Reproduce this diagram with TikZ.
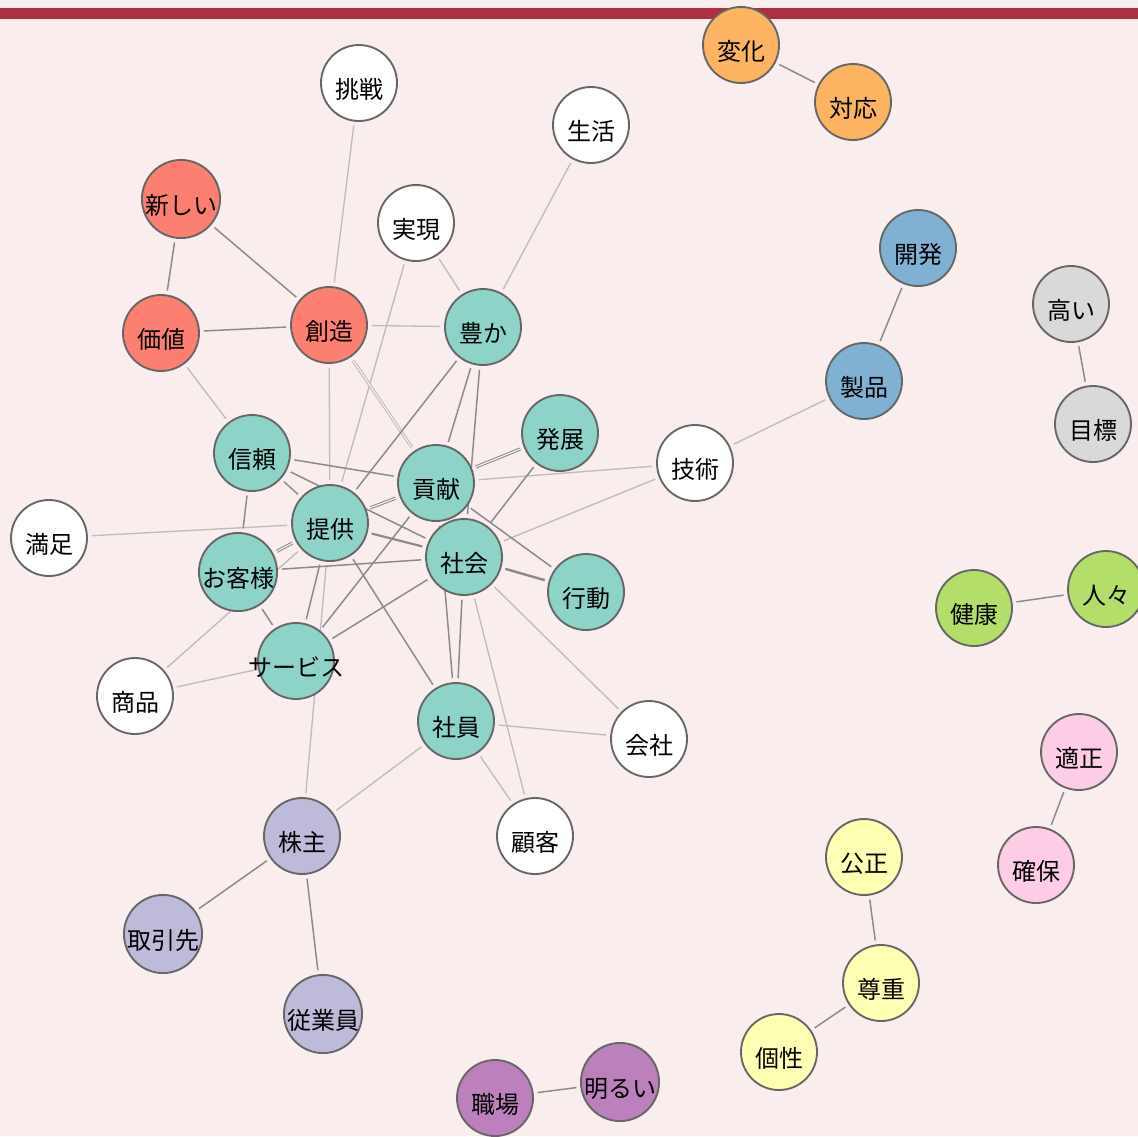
\documentclass[tikz,border=0pt]{standalone}
\usepackage{fontspec}
\setmainfont{Noto Sans CJK JP}
\pgfdeclarelayer{back}
\pgfsetlayers{back,main}
\definecolor{paper}{HTML}{F9EDED}
\definecolor{bar}{HTML}{AF2E40}
\definecolor{rim}{HTML}{666666}
\definecolor{tiedark}{HTML}{8A8A8A}
\definecolor{tielight}{HTML}{BDBDBD}
\definecolor{teal}{HTML}{8DD3C7}
\definecolor{salmon}{HTML}{FB8072}
\definecolor{apricot}{HTML}{FDB462}
\definecolor{steel}{HTML}{80B1D3}
\definecolor{ash}{HTML}{D9D9D9}
\definecolor{lime}{HTML}{B3DE69}
\definecolor{rose}{HTML}{FCCDE5}
\definecolor{cream}{HTML}{FFFFB3}
\definecolor{lilac}{HTML}{BEBADA}
\definecolor{plum}{HTML}{BC80BD}
\tikzset{
  word/.style={circle, draw=rim, line width=1.4pt, fill=white, minimum size=57pt, inner sep=0pt,
    text height=23pt, text depth=0pt, font=\fontsize{18}{18}\selectfont},
  tie/.style={draw=tiedark, line width=1.1pt, shorten <=3pt, shorten >=3pt},
  faint/.style={draw=tielight, line width=1pt, shorten <=3pt, shorten >=3pt},
  twin/.style={double=paper, double distance=0.9pt, line width=0.75pt}
}
\begin{document}
\begin{tikzpicture}[x=0.75pt,y=-0.75pt]
\useasboundingbox (0,0) rectangle (1138,1136);
\clip (0,0) rectangle (1138,1136);
\begin{pgfonlayer}{back}
\fill[paper] (0,0) rectangle (1138,1136);
\end{pgfonlayer}
\fill[bar] (0,8) rectangle (1138,19);
\node[word,fill=apricot] (henka) at (741,45) {変化};
\node[word,fill=apricot] (taiou) at (853,102) {対応};
\node[word] (chosen) at (359,83) {挑戦};
\node[word] (seikatsu) at (591,125) {生活};
\node[word,fill=salmon] (atarashii) at (181,199) {新しい};
\node[word] (jitsugen) at (416,223) {実現};
\node[word,fill=steel] (kaihatsu) at (918,248) {開発};
\node[word,fill=ash] (takai) at (1071,304) {高い};
\node[word,fill=salmon] (kachi) at (161,333) {価値};
\node[word,fill=salmon] (souzou) at (329,325) {創造};
\node[word,fill=teal] (yutaka) at (483,327) {豊か};
\node[word,fill=steel] (seihin) at (864,381) {製品};
\node[word,fill=ash] (mokuhyou) at (1093,424) {目標};
\node[word,fill=teal] (hatten) at (560,433) {発展};
\node[word] (gijutsu) at (695,463) {技術};
\node[word,fill=teal] (shinrai) at (252,453) {信頼};
\node[word,fill=teal] (kouken) at (436,483) {貢献};
\node[word] (manzoku) at (49,538) {満足};
\node[word,fill=teal] (teikyou) at (330,523) {提供};
\node[word,fill=teal] (shakai) at (464,557) {社会};
\node[word,fill=teal] (okyakusama) at (238,572) {お客様};
\node[word,fill=teal] (koudou) at (586,592) {行動};
\node[word,fill=lime] (kenkou) at (974,608) {健康};
\node[word,fill=lime] (hitobito) at (1106,589) {人々};
\node[word,fill=teal] (service) at (296,661) {\makebox[0pt]{サービス}};
\node[word] (shouhin) at (135,696) {商品};
\node[word,fill=teal] (shain) at (456,721) {社員};
\node[word] (kaisha) at (649,739) {会社};
\node[word,fill=rose] (tekisei) at (1079,752) {適正};
\node[word] (kokyaku) at (535,836) {顧客};
\node[word,fill=lilac] (kabunushi) at (302,836) {株主};
\node[word,fill=cream] (kousei) at (864,857) {公正};
\node[word,fill=rose] (kakuho) at (1036,865) {確保};
\node[word,fill=lilac] (torihikisaki) at (163,934) {取引先};
\node[word,fill=cream] (sonchou) at (881,983) {尊重};
\node[word,fill=lilac] (juugyouin) at (323,1014) {従業員};
\node[word,fill=cream] (kosei) at (779,1052) {個性};
\node[word,fill=plum] (shokuba) at (495,1098) {職場};
\node[word,fill=plum] (akarui) at (620,1082) {明るい};
\begin{pgfonlayer}{back}
\draw[faint] (chosen) -- (souzou);
\draw[faint] (jitsugen) -- (teikyou);
\draw[faint] (jitsugen) -- (yutaka);
\draw[faint] (seikatsu) -- (yutaka);
\draw[faint] (souzou) -- (yutaka);
\draw[faint] (souzou) -- (teikyou);
\draw[faint,twin] (souzou) -- (kouken);
\draw[faint] (kachi) -- (shinrai);
\draw[faint] (manzoku) -- (teikyou);
\draw[faint] (gijutsu) -- (seihin);
\draw[faint] (gijutsu) -- (kouken);
\draw[faint] (gijutsu) -- (shakai);
\draw[faint] (shouhin) -- (service);
\draw[faint] (shouhin) -- (teikyou);
\draw[faint] (teikyou) -- (kabunushi);
\draw[faint] (shain) -- (kabunushi);
\draw[faint] (shain) -- (kaisha);
\draw[faint] (shain) -- (kokyaku);
\draw[faint] (shakai) -- (kokyaku);
\draw[faint] (shakai) -- (kaisha);
\draw[tie] (henka) -- (taiou);
\draw[tie] (atarashii) -- (kachi);
\draw[tie] (atarashii) -- (souzou);
\draw[tie] (kachi) -- (souzou);
\draw[tie] (kaihatsu) -- (seihin);
\draw[tie] (takai) -- (mokuhyou);
\draw[tie] (kenkou) -- (hitobito);
\draw[tie] (tekisei) -- (kakuho);
\draw[tie] (kousei) -- (sonchou);
\draw[tie] (sonchou) -- (kosei);
\draw[tie] (shokuba) -- (akarui);
\draw[tie] (kabunushi) -- (torihikisaki);
\draw[tie] (kabunushi) -- (juugyouin);
\draw[tie] (yutaka) -- (teikyou);
\draw[tie] (yutaka) -- (kouken);
\draw[tie] (yutaka) -- (shakai);
\draw[tie] (shinrai) -- (kouken);
\draw[tie] (shinrai) -- (teikyou);
\draw[tie] (shinrai) -- (shakai);
\draw[tie] (shinrai) -- (okyakusama);
\draw[tie,twin] (teikyou) -- (kouken);
\draw[tie,line width=1.6pt] (teikyou) -- (shakai);
\draw[tie] (kouken) -- (koudou);
\draw[tie,twin] (kouken) -- (hatten);
\draw[tie] (hatten) -- (shakai);
\draw[tie,twin] (teikyou) -- (okyakusama);
\draw[tie] (okyakusama) -- (shakai);
\draw[tie] (okyakusama) -- (service);
\draw[tie] (teikyou) -- (service);
\draw[tie] (kouken) -- (service);
\draw[tie] (shakai) -- (service);
\draw[tie] (teikyou) -- (shain);
\draw[tie] (shakai) -- (shain);
\draw[tie] (kouken) -- (shain);
\draw[tie,line width=1.8pt] (shakai) -- (koudou);
\end{pgfonlayer}
\end{tikzpicture}
\end{document}
